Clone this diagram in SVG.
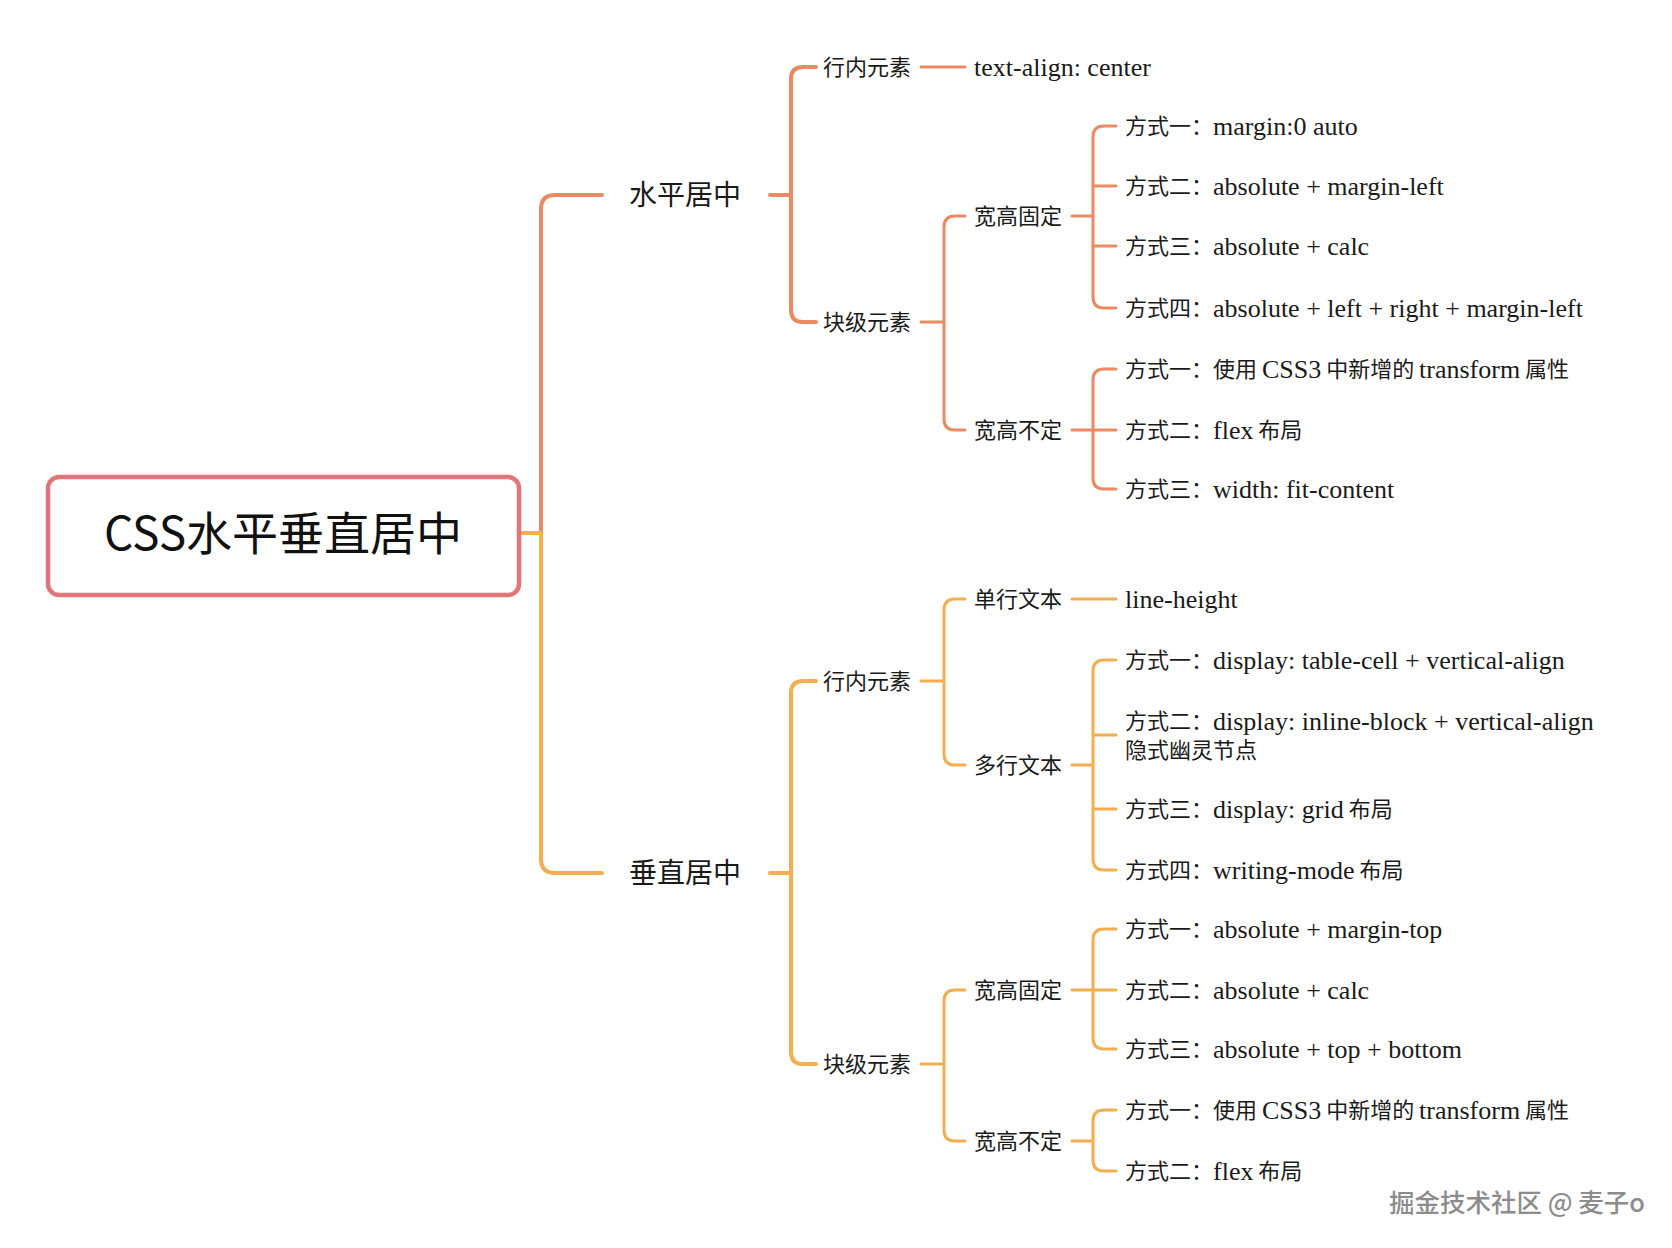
<svg xmlns="http://www.w3.org/2000/svg" width="1672" height="1248" viewBox="0 0 1672 1248">
<style>
.c{font-family:"Noto Sans CJK SC","Noto Sans",sans-serif;font-size:22px;fill:#1a1a1a}
.l{font-family:"Liberation Serif","Noto Sans CJK SC",serif;font-size:26px}
.h{font-family:"Noto Sans CJK SC","Noto Sans",sans-serif;font-size:28px;fill:#1a1a1a}
.o{fill:none;stroke:#EA8A62;stroke-linecap:round;stroke-linejoin:round}
.y{fill:none;stroke:#F2AE50;stroke-linecap:round;stroke-linejoin:round}
.w4{stroke-width:4}
.w3{stroke-width:3}
</style>
<rect width="1672" height="1248" fill="#ffffff"/>
<g id="connectors">
  <path class="o w4" d="M602 195 H555 Q541 195 541 209 V533"/>
  <path class="y w4" d="M519 533 H541 V859 Q541 873 555 873 H602"/>
  <path class="o w4" d="M770 195 H791"/>
  <path class="o w4" d="M816 67 H803 Q791 67 791 79 V310 Q791 322 803 322 H816"/>
  <path class="o w3" d="M921 67 H965"/>
  <path class="o w3" d="M921 322 H944"/>
  <path class="o w3" d="M965 216 H955 Q944 216 944 227 V419 Q944 430 955 430 H965"/>
  <path class="o w3" d="M1072 216 H1093"/>
  <path class="o w3" d="M1116 126 H1104 Q1093 126 1093 137 V297 Q1093 308 1104 308 H1116"/>
  <path class="o w3" d="M1093 186 H1116 M1093 246 H1116"/>
  <path class="o w3" d="M1072 430 H1116"/>
  <path class="o w3" d="M1116 369 H1104 Q1093 369 1093 380 V478 Q1093 489 1104 489 H1116"/>
  <path class="y w4" d="M770 873 H791"/>
  <path class="y w4" d="M816 681 H803 Q791 681 791 693 V1052 Q791 1064 803 1064 H816"/>
  <path class="y w3" d="M921 681 H944"/>
  <path class="y w3" d="M965 599 H955 Q944 599 944 610 V754 Q944 765 955 765 H965"/>
  <path class="y w3" d="M1072 599 H1116"/>
  <path class="y w3" d="M1072 765 H1093"/>
  <path class="y w3" d="M1116 660 H1104 Q1093 660 1093 671 V859 Q1093 870 1104 870 H1116"/>
  <path class="y w3" d="M1093 735 H1116 M1093 809 H1116"/>
  <path class="y w3" d="M921 1064 H944"/>
  <path class="y w3" d="M965 990 H955 Q944 990 944 1001 V1130 Q944 1141 955 1141 H965"/>
  <path class="y w3" d="M1072 990 H1116"/>
  <path class="y w3" d="M1116 929 H1104 Q1093 929 1093 940 V1038 Q1093 1049 1104 1049 H1116"/>
  <path class="y w3" d="M1072 1141 H1093"/>
  <path class="y w3" d="M1116 1110 H1104 Q1093 1110 1093 1121 V1160 Q1093 1171 1104 1171 H1116"/>
</g>
<g id="root">
  <rect x="48" y="477" width="471" height="118" rx="11" fill="#ffffff" stroke="#E0767A" stroke-width="4.5"/>
  <text x="283" y="550" text-anchor="middle" font-family="Noto Sans CJK SC,sans-serif" font-size="46" fill="#111">CSS水平垂直居中</text>
</g>
<g id="n-h"><text class="h" x="629" y="205">水平居中</text></g>
<g id="n-v"><text class="h" x="629" y="883">垂直居中</text></g>

<g id="h-inline"><text class="c" x="823" y="75">行内元素</text></g>
<g id="h-inline-1"><text class="c l" x="974" y="76">text-align: center</text></g>
<g id="h-block"><text class="c" x="823" y="330">块级元素</text></g>
<g id="h-fixed"><text class="c" x="974" y="224">宽高固定</text></g>
<g id="h-fixed-1"><text class="c" x="1125" y="134">方式一：<tspan class="l" x="1213" y="135">margin:0 auto</tspan></text></g>
<g id="h-fixed-2"><text class="c" x="1125" y="194">方式二：<tspan class="l" x="1213" y="195">absolute + margin-left</tspan></text></g>
<g id="h-fixed-3"><text class="c" x="1125" y="254">方式三：<tspan class="l" x="1213" y="255">absolute + calc</tspan></text></g>
<g id="h-fixed-4"><text class="c" x="1125" y="316">方式四：<tspan class="l" x="1213" y="317">absolute + left + right + margin-left</tspan></text></g>
<g id="h-free"><text class="c" x="974" y="438">宽高不定</text></g>
<g id="h-free-1"><text class="c" x="1125" y="377">方式一：<tspan x="1213">使用 </tspan><tspan class="l" y="378">CSS3</tspan><tspan y="377"> 中新增的 </tspan><tspan class="l" y="378">transform</tspan><tspan y="377"> 属性</tspan></text></g>
<g id="h-free-2"><text class="c" x="1125" y="438">方式二：<tspan class="l" x="1213" y="439">flex</tspan><tspan y="438"> 布局</tspan></text></g>
<g id="h-free-3"><text class="c" x="1125" y="497">方式三：<tspan class="l" x="1213" y="498">width: fit-content</tspan></text></g>

<g id="v-inline"><text class="c" x="823" y="689">行内元素</text></g>
<g id="v-single"><text class="c" x="974" y="607">单行文本</text></g>
<g id="v-single-1"><text class="c l" x="1125" y="608">line-height</text></g>
<g id="v-multi"><text class="c" x="974" y="773">多行文本</text></g>
<g id="v-multi-1"><text class="c" x="1125" y="668">方式一：<tspan class="l" x="1213" y="669">display: table-cell + vertical-align</tspan></text></g>
<g id="v-multi-2"><text class="c" x="1125" y="729">方式二：<tspan class="l" x="1213" y="730">display: inline-block + vertical-align</tspan><tspan x="1125" y="758">隐式幽灵节点</tspan></text></g>
<g id="v-multi-3"><text class="c" x="1125" y="817">方式三：<tspan class="l" x="1213" y="818">display: grid</tspan><tspan y="817"> 布局</tspan></text></g>
<g id="v-multi-4"><text class="c" x="1125" y="878">方式四：<tspan class="l" x="1213" y="879">writing-mode</tspan><tspan y="878"> 布局</tspan></text></g>
<g id="v-block"><text class="c" x="823" y="1072">块级元素</text></g>
<g id="v-fixed"><text class="c" x="974" y="998">宽高固定</text></g>
<g id="v-fixed-1"><text class="c" x="1125" y="937">方式一：<tspan class="l" x="1213" y="938">absolute + margin-top</tspan></text></g>
<g id="v-fixed-2"><text class="c" x="1125" y="998">方式二：<tspan class="l" x="1213" y="999">absolute + calc</tspan></text></g>
<g id="v-fixed-3"><text class="c" x="1125" y="1057">方式三：<tspan class="l" x="1213" y="1058">absolute + top + bottom</tspan></text></g>
<g id="v-free"><text class="c" x="974" y="1149">宽高不定</text></g>
<g id="v-free-1"><text class="c" x="1125" y="1118">方式一：<tspan x="1213">使用 </tspan><tspan class="l" y="1119">CSS3</tspan><tspan y="1118"> 中新增的 </tspan><tspan class="l" y="1119">transform</tspan><tspan y="1118"> 属性</tspan></text></g>
<g id="v-free-2"><text class="c" x="1125" y="1179">方式二：<tspan class="l" x="1213" y="1180">flex</tspan><tspan y="1179"> 布局</tspan></text></g>

<text x="1389" y="1212" font-family="Noto Sans CJK SC,sans-serif" font-size="25.5" font-weight="500" fill="#8c8c8c" stroke="#ffffff" stroke-width="1.2" paint-order="stroke">掘金技术社区 @ 麦子o</text>
</svg>
